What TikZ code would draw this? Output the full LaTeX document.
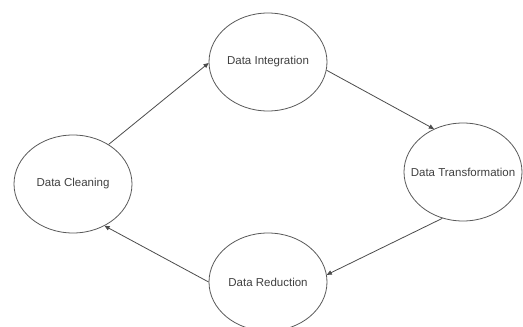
\documentclass[tikz,border=0pt]{standalone}
\usepackage{fontspec}
\setmainfont{Liberation Sans}
\usepackage{xcolor}
\usepackage{tikz}
\usetikzlibrary{shapes.geometric,arrows.meta,positioning}

% keep the label from widening the ellipse
\newcommand\stagelabel[1]{\makebox[0pt]{#1}}

\begin{document}
\begin{tikzpicture}[
  x=1pt, y=-1pt,
  every node/.style={font=\fontsize{11.5}{13}\selectfont, text=black!75},
  stage/.style ={ellipse, draw=black!65, line width=0.8pt, fill=white,
                 minimum width=118pt, minimum height=98pt, inner sep=0pt},
  flow/.style  ={-{Triangle[length=5pt,width=4.5pt]}, draw=black!70, line width=0.8pt}
]
\useasboundingbox[fill=white] (0,0) rectangle (523,327);
\node[stage] (int) at (268,62)  {\stagelabel{Data Integration}};
\node[stage] (trf) at (463,172) {\stagelabel{Data Transformation}};
\node[stage] (red) at (268,282) {\stagelabel{Data Reduction}};
\node[stage] (cln) at (73,184)  {\stagelabel{Data Cleaning}};
\draw[flow] (cln.48)  -- (int.181);
\draw[flow] (int.352) -- (trf.124);
\draw[flow] (trf.246) -- (red.7);
\draw[flow] (red.180) -- (cln.307);
\end{tikzpicture}
\end{document}
